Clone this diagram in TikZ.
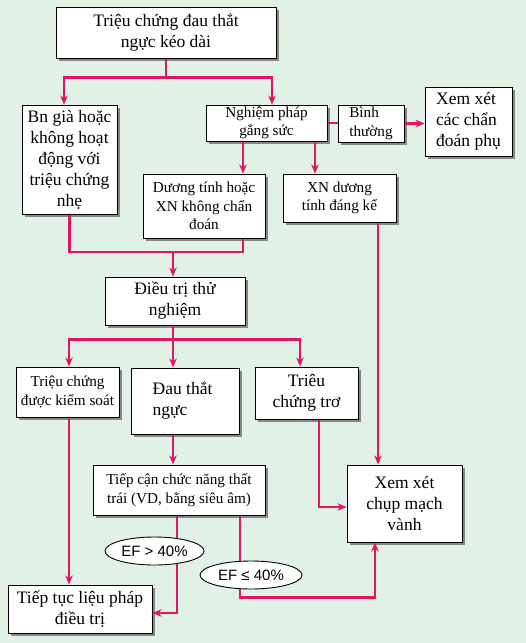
\documentclass[tikz,border=0pt]{standalone}
\usepackage{fontspec}
\setmainfont{Liberation Serif}
\newfontfamily\sansf{Liberation Sans}
\usetikzlibrary{arrows.meta,shapes.geometric}
\definecolor{bgc}{RGB}{225,241,229}
\definecolor{arrc}{RGB}{226,20,100}
\definecolor{shc}{RGB}{135,135,135}
\tikzset{
  box/.style={draw=black, line width=1pt, fill=white, inner sep=0pt, align=center,
    preaction={draw=none, fill=shc, transform canvas={shift={(3pt,-3pt)}}}},
  big/.style={font=\fontsize{17.5}{21}\selectfont},
  small/.style={font=\fontsize{15.2}{18.5}\selectfont},
  ln/.style={draw=arrc, line width=2.1pt},
  arr/.style={ln, -{Stealth[length=9pt,width=7.5pt]}},
  ef/.style={ellipse, draw=black, line width=0.9pt, fill=white, inner sep=0pt,
    font=\sansf\fontsize{15}{18}\selectfont}
}
\begin{document}
\begin{tikzpicture}[x=1pt,y=-1pt]
\fill[bgc] (0,0) rectangle (526,643);
\useasboundingbox (0,0) rectangle (526,643);
% boxes
\node[box,big,minimum width=220pt,minimum height=51pt] (A) at (166,32.5) {Triệu chứng đau thắt\\ngực kéo dài};
\node[box,big,minimum width=95pt,minimum height=109pt] (B) at (69.5,159.5) {Bn già hoặc\\không hoạt\\động với\\triệu chứng\\nhẹ};
\node[box,small,minimum width=121pt,minimum height=36pt] (C) at (266.5,123) {Nghiệm pháp\\gắng sức};
\node[box,small,align=left,minimum width=66pt,minimum height=37pt] (D) at (371,123.5) {Bình\\thường};
\node[box,big,align=left,minimum width=87pt,minimum height=69pt] (E) at (468.5,121.5) {Xem xét\\các chẩn\\đoán phụ};
\node[box,small,minimum width=122pt,minimum height=64pt] (F) at (204,206) {Dương tính hoặc\\XN không chẩn\\đoán};
\node[box,small,minimum width=113pt,minimum height=48pt] (G) at (339.5,198) {XN dương\\tính đáng kể};
\node[box,big,minimum width=140pt,minimum height=48pt] (H) at (175,301) {Điều trị thử\\nghiệm};
\node[box,small,minimum width=103pt,minimum height=50pt] (I) at (67.5,392) {Triệu chứng\\được kiểm soát};
\node[box,big,align=left,minimum width=108pt,minimum height=66pt] (J) at (185,401) {Đau thắt\\ngực\hspace*{30pt}};
\node[box,big,minimum width=103pt,minimum height=52pt] (K) at (306.5,393) {Triêu\\chứng trơ};
\node[box,small,minimum width=172pt,minimum height=50pt] (L) at (179,490) {Tiếp cận chức năng thất\\trái (VD, bằng siêu âm)};
\node[box,big,minimum width=115pt,minimum height=77pt] (M) at (404.5,503.5) {Xem xét\\chụp mạch\\vành};
\node[box,big,minimum width=144pt,minimum height=48pt] (N) at (80,609) {Tiếp tục liệu pháp\\điều trị};
% connectors
\draw[arr] (A.south) -- ++(0,19) -| ([xshift=-5.5pt]B.north);
\draw[arr] (A.south) -- ++(0,19) -| ([xshift=5.5pt]C.north);
\draw[ln] (C.east) -- (C.east -| D.west);
\draw[arr] (D.east) -- (D.east -| E.west);
\draw[arr] ([xshift=-23.5pt]C.south) -- ([xshift=-23.5pt]C.south |- F.north);
\draw[arr] ([xshift=48.5pt]C.south) -- ([xshift=48.5pt]C.south |- G.north);
\coordinate (j1) at (173,252);
\draw[ln] (B.south) |- ([xshift=39pt]F.south |- j1) -- ([xshift=39pt]F.south);
\draw[arr] (j1) -- (j1 |- H.north);
\draw[arr] ([xshift=-2pt]H.south) -- ++(0,14) -| ([xshift=1.5pt]I.north);
\draw[arr] ([xshift=-2pt]H.south) -- ([xshift=-2pt]H.south |- J.north);
\draw[arr] ([xshift=-2pt]H.south) -- ++(0,14) -| ([xshift=-6.5pt]K.north);
\draw[arr] ([xshift=38.5pt]G.south) -- ([xshift=38.5pt]G.south |- M.north);
\draw[arr] ([xshift=-12pt]J.south) -- ([xshift=-12pt]J.south |- L.north);
\draw[arr] ([xshift=12.5pt]K.south) |- ([yshift=-3.5pt]M.west);
\draw[arr] ([xshift=1.5pt]I.south) -- ([xshift=1.5pt]I.south |- N.north);
\draw[arr] ([xshift=-2pt]L.south) |- ([yshift=-4pt]N.east);
\draw[arr] ([xshift=61pt]L.south) -- ++(0,82) -| ([xshift=-29.5pt]M.south);
% labels
\node[ef,minimum width=99pt,minimum height=28pt] (E1) at (154.5,551) {EF > 40\%};
\node[ef,minimum width=102pt,minimum height=28pt] (E2) at (251,575) {EF ≤ 40\%};
\end{tikzpicture}
\end{document}
